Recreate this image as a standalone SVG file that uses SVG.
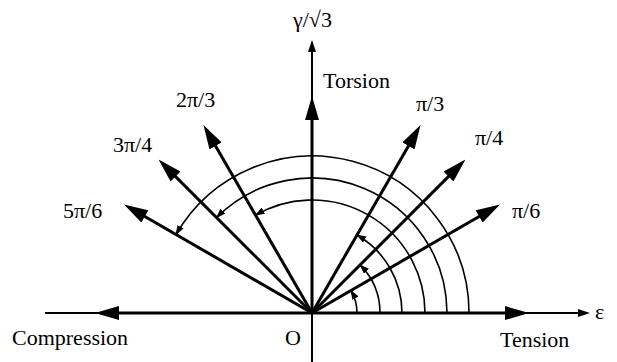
<svg xmlns="http://www.w3.org/2000/svg" width="617" height="362" viewBox="0 0 617 362">
  <style>
    .lbl { font-family: "Liberation Serif", "Times New Roman", serif; font-size: 22px; fill: #000; }
    .axis { stroke: #000; stroke-width: 2; fill: none; }
    .ray { stroke: #000; stroke-width: 3; fill: none; marker-end: url(#big); }
    .arc { stroke: #000; stroke-width: 1.6; fill: none; marker-end: url(#tiny); }
  </style>
  <defs>
    <marker id="big" markerUnits="userSpaceOnUse" viewBox="0 0 24 14" markerWidth="24" markerHeight="14" refX="14" refY="7" orient="auto">
      <path d="M0,0 L24,7 L0,14 z" fill="#000"/>
    </marker>
    <marker id="small" markerUnits="userSpaceOnUse" viewBox="0 0 12 8" markerWidth="12" markerHeight="8" refX="8" refY="4" orient="auto">
      <path d="M0,0 L12,4 L0,8 z" fill="#000"/>
    </marker>
    <marker id="tiny" markerUnits="userSpaceOnUse" viewBox="0 0 10 7" markerWidth="10" markerHeight="7" refX="9" refY="3.5" orient="auto">
      <path d="M0,0 L10,3.5 L0,7 z" fill="#000"/>
    </marker>
  </defs>
  <rect width="617" height="362" fill="#fff"/>

  <g id="axes">
    <line class="axis" x1="45" y1="313" x2="586" y2="313" marker-end="url(#small)"/>
    <line class="axis" x1="312" y1="362" x2="312" y2="44" marker-end="url(#small)"/>
  </g>

  <g id="connectors">
    <line class="ray" x1="312" y1="313" x2="519" y2="313"/>
    <line class="ray" x1="312" y1="313" x2="491.27" y2="209.5"/>
    <line class="ray" x1="312" y1="313" x2="458.37" y2="166.63"/>
    <line class="ray" x1="312" y1="313" x2="415.5" y2="133.73"/>
    <line class="ray" x1="312" y1="313" x2="312" y2="106"/>
    <line class="ray" x1="312" y1="313" x2="208.5" y2="133.73"/>
    <line class="ray" x1="312" y1="313" x2="165.63" y2="166.63"/>
    <line class="ray" x1="312" y1="313" x2="132.73" y2="209.5"/>
    <line class="ray" x1="312" y1="313" x2="105" y2="313"/>
  </g>

  <g id="arcs">
    <path class="arc" d="M357,313 A45,45 0 0 0 350.97,290.5"/>
    <path class="arc" d="M380,313 A68,68 0 0 0 360.08,264.92"/>
    <path class="arc" d="M402,313 A90,90 0 0 0 357,235.06"/>
    <path class="arc" d="M425,313 A113,113 0 0 0 255.5,215.14"/>
    <path class="arc" d="M447,313 A135,135 0 0 0 216.54,217.54"/>
    <path class="arc" d="M469,313 A157,157 0 0 0 176.03,234.5"/>
  </g>

  <g id="labels">
    <text class="lbl" x="293" y="27">γ/√3</text>
    <text class="lbl" x="323" y="88">Torsion</text>
    <text class="lbl" x="416" y="111">π/3</text>
    <text class="lbl" x="475" y="145">π/4</text>
    <text class="lbl" x="512" y="218">π/6</text>
    <text class="lbl" x="176" y="107">2π/3</text>
    <text class="lbl" x="113" y="152">3π/4</text>
    <text class="lbl" x="63" y="218">5π/6</text>
    <text class="lbl" x="12" y="345">Compression</text>
    <text class="lbl" x="285" y="345">O</text>
    <text class="lbl" x="500" y="347">Tension</text>
    <text class="lbl" x="595" y="319">ε</text>
  </g>
</svg>
